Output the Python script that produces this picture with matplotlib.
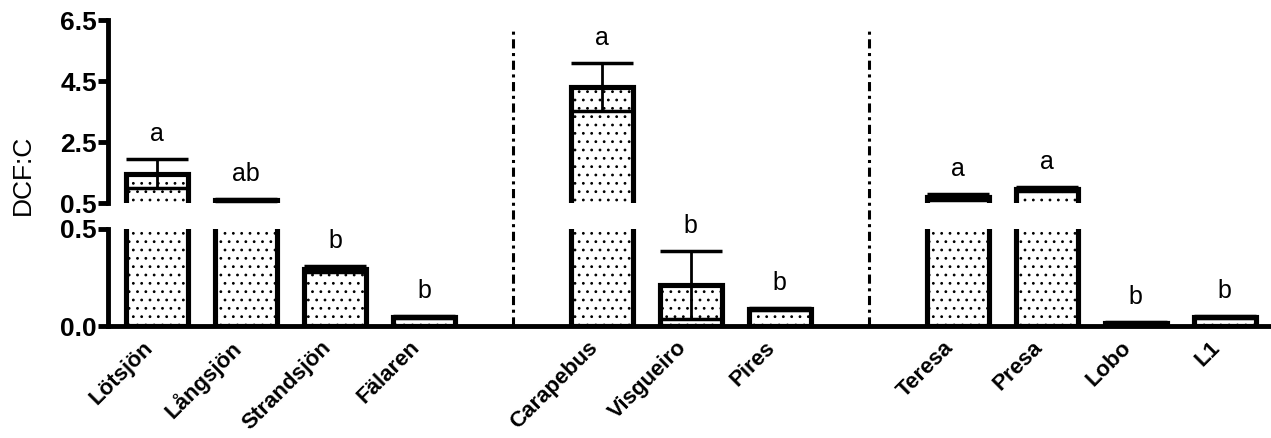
import matplotlib.pyplot as plt
from matplotlib.lines import Line2D
import matplotlib.transforms as mtransforms

plt.rcParams['font.family'] = ['Liberation Sans', 'DejaVu Sans']
plt.rcParams['hatch.linewidth'] = 0.8

# lakes, grouped by region (gaps at the separators)
names = ['Lötsjön', 'Långsjön', 'Strandsjön', 'Fälaren',
         'Carapebus', 'Visgueiro', 'Pires',
         'Teresa', 'Presa', 'Lobo', 'L1']
pos = [0, 1, 2, 3, 5, 6, 7, 9, 10, 11, 12]
means = [1.46, 0.60, 0.294, 0.046, 4.30, 0.21, 0.088, 0.70, 0.96, 0.015, 0.046]
errs = [0.47, 0.02, 0.015, 0.005, 0.78, 0.175, 0.005, 0.10, 0.07, 0.005, 0.006]
letters = ['a', 'ab', 'b', 'b', 'a', 'b', 'b', 'a', 'a', 'b', 'b']
separators = [4, 8]

upper_ticks = [0.5, 2.5, 4.5, 6.5]
lower_ticks = [0.0, 0.5]

fig = plt.figure(figsize=(12.71, 4.38), dpi=100)
ax_hi = fig.add_axes([0.085, 0.5365, 0.915, 0.4178])
ax_lo = fig.add_axes([0.085, 0.2557, 0.915, 0.2215])

for ax in (ax_hi, ax_lo):
    ax.bar(pos, means, width=0.7, color='white', edgecolor='black',
           linewidth=3.7, hatch='..', zorder=2)
    ax.errorbar(pos, means, yerr=errs, fmt='none', ecolor='black',
                elinewidth=2, capsize=22, capthick=2.5, zorder=3)
    ax.set_xlim(-0.55, 12.52)
    for s in ('top', 'right'):
        ax.spines[s].set_visible(False)
    ax.spines['left'].set_linewidth(3.5)
    ax.tick_params(axis='y', width=3.5, length=7, labelsize=19, pad=1)

ax_hi.set_ylim(0.5, 6.5)
ax_hi.set_yticks(upper_ticks)
ax_hi.set_yticklabels([f'{t:.1f}' for t in upper_ticks], fontweight='bold')
ax_hi.spines['bottom'].set_visible(False)
ax_hi.set_xticks([])

ax_lo.set_ylim(0.0, 0.5)
ax_lo.set_yticks(lower_ticks)
ax_lo.set_yticklabels([f'{t:.1f}' for t in lower_ticks], fontweight='bold')
ax_lo.spines['bottom'].set_linewidth(3.5)
ax_lo.set_xticks(pos)
ax_lo.set_xticklabels(names, rotation=45, ha='right', fontsize=16,
                      fontweight='bold')
ax_lo.tick_params(axis='x', length=0, pad=8)

# significance letters
for x, m, e, l in zip(pos, means, errs, letters):
    top = m + e
    ax = ax_hi if top > 0.5 else ax_lo
    ax.annotate(l, xy=(x, top), xytext=(0, 18), textcoords='offset points',
                ha='center', va='center', fontsize=18, annotation_clip=False)

# dash-dot separators spanning both segments
trans = mtransforms.blended_transform_factory(ax_lo.transData, ax_lo.transAxes)
for s in separators:
    ax_lo.add_line(Line2D([s, s], [0, 3.05], transform=trans, color='black',
                          lw=2.2, linestyle=(0, (3, 1.5, 1, 1.5)),
                          clip_on=False))

fig.text(0.018, 0.6, 'DCF:C', rotation=90, fontsize=19,
         ha='center', va='center')

fig.savefig('out.png', dpi=100)
